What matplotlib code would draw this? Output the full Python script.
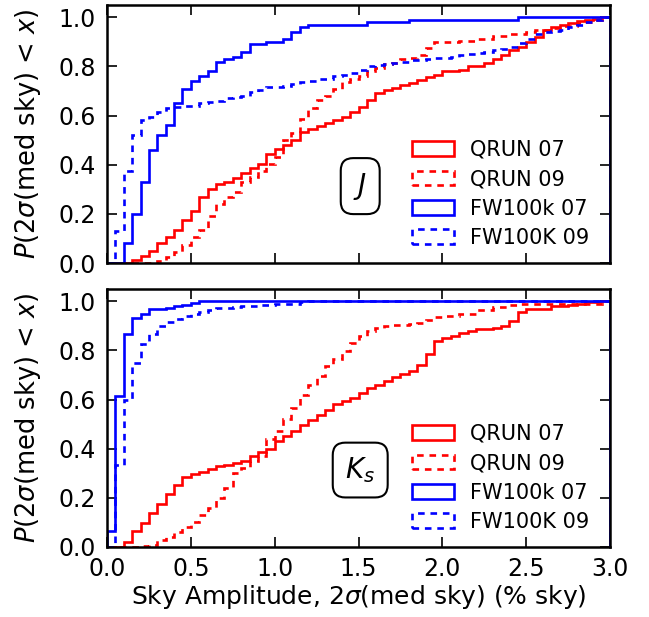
import numpy as np
import matplotlib
matplotlib.use('Agg')
import matplotlib.pyplot as plt

# Bin grid of the cumulative histograms (% sky)
bin_edges = np.round(np.arange(0, 3.0001, 0.05), 2)

labels = ['QRUN 07', 'QRUN 09', 'FW100k 07', 'FW100K 09']

# ---- J band: cumulative fraction per bin ----
j_qrun07 = [0, 0, 0, 0.012, 0.03, 0.05, 0.08, 0.105, 0.135, 0.175,
            0.21, 0.27, 0.30, 0.32, 0.33, 0.345, 0.365, 0.385, 0.405, 0.445,
            0.466, 0.48, 0.50, 0.534, 0.547, 0.557, 0.568, 0.58, 0.595, 0.615,
            0.635, 0.665, 0.69, 0.703, 0.714, 0.724, 0.733, 0.744, 0.755, 0.765,
            0.78, 0.78, 0.785, 0.80, 0.80, 0.815, 0.83, 0.845, 0.866, 0.88,
            0.90, 0.92, 0.947, 0.96, 0.97, 0.975, 0.985, 0.99, 0.995, 1.0]
j_qrun09 = [0, 0, 0, 0, 0, 0, 0.01, 0.025, 0.045, 0.075,
            0.105, 0.135, 0.19, 0.24, 0.27, 0.29, 0.33, 0.35, 0.375, 0.405,
            0.43, 0.50, 0.53, 0.585, 0.63, 0.665, 0.68, 0.71, 0.735, 0.75,
            0.76, 0.78, 0.795, 0.81, 0.815, 0.83, 0.835, 0.845, 0.875, 0.90,
            0.90, 0.90, 0.905, 0.905, 0.913, 0.913, 0.923, 0.923, 0.933, 0.933,
            0.94, 0.947, 0.947, 0.955, 0.965, 0.965, 0.975, 0.98, 0.99, 1.0]
j_fw07 = [0, 0, 0.08, 0.20, 0.33, 0.46, 0.52, 0.56, 0.65, 0.71,
          0.74, 0.76, 0.78, 0.82, 0.83, 0.84, 0.86, 0.89, 0.89, 0.90,
          0.90, 0.91, 0.94, 0.96, 0.97, 0.97, 0.97, 0.97, 0.97, 0.97,
          0.97, 0.98, 0.98, 0.98, 0.98, 0.98, 0.99, 0.99, 0.99, 0.99,
          0.99, 0.99, 0.99, 0.99, 0.99, 0.99, 0.99, 0.99, 0.99, 1.0,
          1.0, 1.0, 1.0, 1.0, 1.0, 1.0, 1.0, 1.0, 1.0, 1.0]
j_fw09 = [0, 0.13, 0.375, 0.52, 0.58, 0.595, 0.615, 0.63, 0.635, 0.64,
          0.64, 0.65, 0.655, 0.66, 0.67, 0.675, 0.68, 0.695, 0.705, 0.715,
          0.715, 0.72, 0.73, 0.735, 0.74, 0.75, 0.75, 0.76, 0.765, 0.775,
          0.785, 0.80, 0.805, 0.81, 0.815, 0.82, 0.825, 0.825, 0.83, 0.835,
          0.835, 0.84, 0.845, 0.85, 0.855, 0.86, 0.865, 0.87, 0.88, 0.895,
          0.91, 0.93, 0.94, 0.945, 0.95, 0.96, 0.97, 0.98, 0.99, 1.0]

# ---- Ks band ----
k_qrun07 = [0, 0, 0.02, 0.063, 0.097, 0.137, 0.174, 0.215, 0.253, 0.283,
            0.297, 0.307, 0.317, 0.328, 0.335, 0.342, 0.35, 0.37, 0.385, 0.40,
            0.43, 0.45, 0.47, 0.498, 0.518, 0.539, 0.559, 0.58, 0.594, 0.607,
            0.627, 0.648, 0.66, 0.675, 0.69, 0.705, 0.715, 0.74, 0.784, 0.84,
            0.85, 0.86, 0.87, 0.88, 0.886, 0.886, 0.89, 0.90, 0.92, 0.955,
            0.967, 0.967, 0.97, 0.98, 0.98, 0.985, 0.99, 0.995, 0.995, 1.0]
k_qrun09 = [0, 0, 0, 0, 0.005, 0.01, 0.03, 0.04, 0.06, 0.08,
            0.10, 0.13, 0.16, 0.20, 0.24, 0.30, 0.32, 0.35, 0.37, 0.44,
            0.47, 0.52, 0.566, 0.62, 0.66, 0.695, 0.736, 0.763, 0.797, 0.83,
            0.858, 0.878, 0.892, 0.90, 0.903, 0.905, 0.908, 0.91, 0.925, 0.935,
            0.94, 0.94, 0.95, 0.95, 0.965, 0.965, 0.975, 0.975, 0.985, 0.99,
            0.99, 0.99, 0.99, 0.99, 0.99, 0.99, 0.99, 0.99, 0.99, 1.0]
k_fw07 = [0.063, 0.614, 0.865, 0.933, 0.95, 0.967, 0.97, 0.974, 0.98, 0.986,
          0.993, 1.0, 1.0, 1.0, 1.0, 1.0, 1.0, 1.0, 1.0, 1.0,
          1.0, 1.0, 1.0, 1.0, 1.0, 1.0, 1.0, 1.0, 1.0, 1.0,
          1.0, 1.0, 1.0, 1.0, 1.0, 1.0, 1.0, 1.0, 1.0, 1.0,
          1.0, 1.0, 1.0, 1.0, 1.0, 1.0, 1.0, 1.0, 1.0, 1.0,
          1.0, 1.0, 1.0, 1.0, 1.0, 1.0, 1.0, 1.0, 1.0, 1.0]
k_fw09 = [0, 0.335, 0.60, 0.75, 0.825, 0.865, 0.90, 0.917, 0.927, 0.94,
          0.95, 0.958, 0.963, 0.971, 0.974, 0.977, 0.98, 0.982, 0.985, 0.985,
          0.99, 0.99, 0.99, 0.995, 1.0, 1.0, 1.0, 1.0, 1.0, 1.0,
          1.0, 1.0, 1.0, 1.0, 1.0, 1.0, 1.0, 1.0, 1.0, 1.0,
          1.0, 1.0, 1.0, 1.0, 1.0, 1.0, 1.0, 1.0, 1.0, 1.0,
          1.0, 1.0, 1.0, 1.0, 1.0, 1.0, 1.0, 1.0, 1.0, 1.0]

styles = [('red', '-'), ('red', (0, (2.5, 2.2))),
          ('blue', '-'), ('blue', (0, (2.5, 2.2)))]

fig = plt.figure(figsize=(6.49, 6.17), dpi=100)
ax_top = fig.add_axes([0.1649, 0.5737, 0.7751, 0.4182])
ax_bot = fig.add_axes([0.1649, 0.1135, 0.7751, 0.4182])

panels = [(ax_top, [j_qrun07, j_qrun09, j_fw07, j_fw09], r'$J$'),
          (ax_bot, [k_qrun07, k_qrun09, k_fw07, k_fw09], r'$K_s$')]

for ax, series, band in panels:
    for vals, lab, (col, ls) in zip(series, labels, styles):
        ax.hist(bin_edges[:-1], bins=bin_edges, weights=vals, histtype='step',
                color=col, linestyle=ls, linewidth=1.9, label=lab)
    ax.set_xlim(0, 3.0)
    ax.set_ylim(0, 1.05)
    ax.set_xticks(np.arange(0, 3.01, 0.5))
    ax.set_yticks(np.arange(0, 1.01, 0.2))
    ax.tick_params(direction='in', top=True, right=True, length=7, width=1.2,
                   labelsize=17)
    ax.tick_params(axis='y', pad=8)
    ax.tick_params(axis='x', pad=7)
    for sp in ax.spines.values():
        sp.set_linewidth(1.8)
    ax.set_ylabel(r'$P$(2$\sigma$(med sky) < $x$)', fontsize=18.5)
    ax.yaxis.set_label_coords(-0.127, 0.5)
    ax.legend(loc='lower right', bbox_to_anchor=(0.976, 0.026), frameon=False,
              fontsize=15, labelspacing=0.45, handlelength=2.0,
              borderaxespad=0.0)
    ax.text(1.51, 0.313, band, ha='center', va='center', fontsize=20,
            bbox=dict(boxstyle='round,pad=0.45', fc='white', ec='black', lw=1.5))

ax_top.tick_params(labelbottom=False)
ax_bot.set_xlabel(r'Sky Amplitude, 2$\sigma$(med sky) (% sky)', fontsize=18,
                  labelpad=2)

fig.savefig('out.png', dpi=100)
